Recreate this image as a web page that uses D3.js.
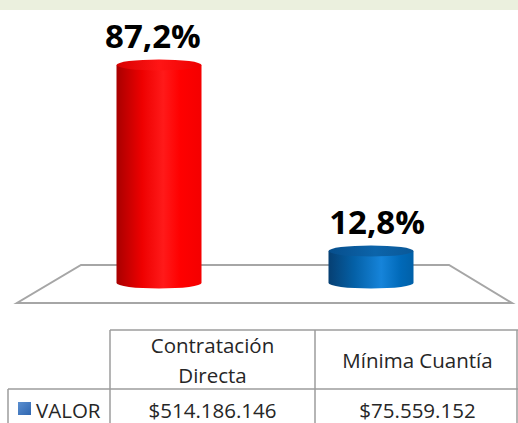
<!DOCTYPE html>
<html><head><meta charset="utf-8">
<script src="https://cdn.jsdelivr.net/npm/d3@7"></script>
<style>html,body{margin:0;padding:0;background:#fff;}svg{display:block;}</style>
</head><body>
<svg id="c" width="518" height="423"></svg>
<script>
const categories = ["Contratación Directa", "Mínima Cuantía"];
const headerLines = [["Contratación", "Directa"], ["Mínima Cuantía"]];
const percentages = [87.2, 12.8];
const percentLabels = ["87,2%", "12,8%"];
const valueLabels = ["$514.186.146", "$75.559.152"];
const seriesName = "VALOR";

const svg = d3.select("#c");
const defs = svg.append("defs");

const palettes = [
  {side: [["0%", "#A80000"], ["30%", "#EE0000"], ["55%", "#FF1A1A"], ["75%", "#FF0000"], ["100%", "#F40000"]],
   top: [["0%", "#D80000"], ["50%", "#FF1515"], ["100%", "#EE0000"]]},
  {side: [["0%", "#063F72"], ["30%", "#0460A6"], ["62%", "#1684DA"], ["85%", "#0069B8"], ["100%", "#0060A8"]],
   top: [["0%", "#064E8C"], ["55%", "#0C64AA"], ["100%", "#0A5898"]]}
];
palettes.forEach((p, i) => {
  const g = defs.append("linearGradient").attr("id", "side" + i).attr("x1", "0%").attr("x2", "100%");
  p.side.forEach(s => g.append("stop").attr("offset", s[0]).attr("stop-color", s[1]));
  const t = defs.append("linearGradient").attr("id", "top" + i).attr("x1", "0%").attr("x2", "100%");
  p.top.forEach(s => t.append("stop").attr("offset", s[0]).attr("stop-color", s[1]));
});
const lg = defs.append("linearGradient").attr("id", "leg").attr("x1", "0%").attr("x2", "100%").attr("y1", "0%").attr("y2", "100%");
lg.append("stop").attr("offset", "0%").attr("stop-color", "#5B8FD0");
lg.append("stop").attr("offset", "100%").attr("stop-color", "#2F66B0");

// top band
svg.append("rect").attr("x", 0).attr("y", 0).attr("width", 518).attr("height", 10).attr("fill", "#EBF0DE");

const x = d3.scalePoint().domain(categories).range([53, 477]).padding(0.5);
const y = d3.scaleLinear().domain([0, 100]).range([283, 33]);
const midX = 265;

// floor
svg.append("path")
  .attr("d", `M81,265 L449,265 L512,303 L17,303 Z`)
  .attr("fill", "#fff").attr("stroke", "#A6A6A6").attr("stroke-width", 2);

const rx = 42.5, ry = 5.5;
categories.forEach((c, i) => {
  const cx = x(c), yb = y(0), yt = y(percentages[i]);
  svg.append("path")
    .attr("d", `M${cx - rx},${yt} L${cx - rx},${yb} A${rx},${ry} 0 0 0 ${cx + rx},${yb} L${cx + rx},${yt} Z`)
    .attr("fill", `url(#side${i})`);
  svg.append("ellipse").attr("cx", cx).attr("cy", yt).attr("rx", rx).attr("ry", ry)
    .attr("fill", `url(#top${i})`);
  svg.append("text").attr("x", midX + (cx - midX) * 1.057).attr("y", Math.max(yt - 17, 41))
    .attr("text-anchor", "middle")
    .attr("font-family", "Open Sans").attr("font-weight", "bold").attr("font-size", 33)
    .attr("fill", "#000").text(percentLabels[i]);
});

// data table
const tx = d3.scaleBand().domain(categories).range([110, 520]);
const lineC = "#9C9C9C";
const tbl = svg.append("g").attr("stroke", lineC).attr("stroke-width", 1.5).attr("fill", "none");
tbl.append("line").attr("x1", 110).attr("x2", 518).attr("y1", 330).attr("y2", 330);
tbl.append("line").attr("x1", 8).attr("x2", 518).attr("y1", 389).attr("y2", 389);
tbl.append("line").attr("x1", 8).attr("x2", 8).attr("y1", 389).attr("y2", 423);
categories.forEach(c => {
  tbl.append("line").attr("x1", tx(c)).attr("x2", tx(c)).attr("y1", 330).attr("y2", 423);
});
tbl.append("line").attr("x1", 517).attr("x2", 517).attr("y1", 330).attr("y2", 423);

const tf = {family: "Open Sans", size: 20.5, color: "#262626"};
categories.forEach((c, i) => {
  const cx = tx(c) + tx.bandwidth() / 2;
  const lines = headerLines[i];
  const base = lines.length === 2 ? 353 : 368;
  lines.forEach((l, j) => {
    svg.append("text").attr("x", cx).attr("y", base + j * 30).attr("text-anchor", "middle")
      .attr("font-family", tf.family).attr("font-size", tf.size).attr("fill", tf.color).text(l);
  });
  svg.append("text").attr("x", cx).attr("y", 418).attr("text-anchor", "middle")
    .attr("font-family", tf.family).attr("font-size", tf.size).attr("fill", tf.color).text(valueLabels[i]);
});
svg.append("rect").attr("x", 18).attr("y", 402).attr("width", 13).attr("height", 13).attr("fill", "url(#leg)");
svg.append("text").attr("x", 36).attr("y", 418)
  .attr("font-family", tf.family).attr("font-size", tf.size).attr("fill", tf.color).text(seriesName);
</script>
</body></html>
